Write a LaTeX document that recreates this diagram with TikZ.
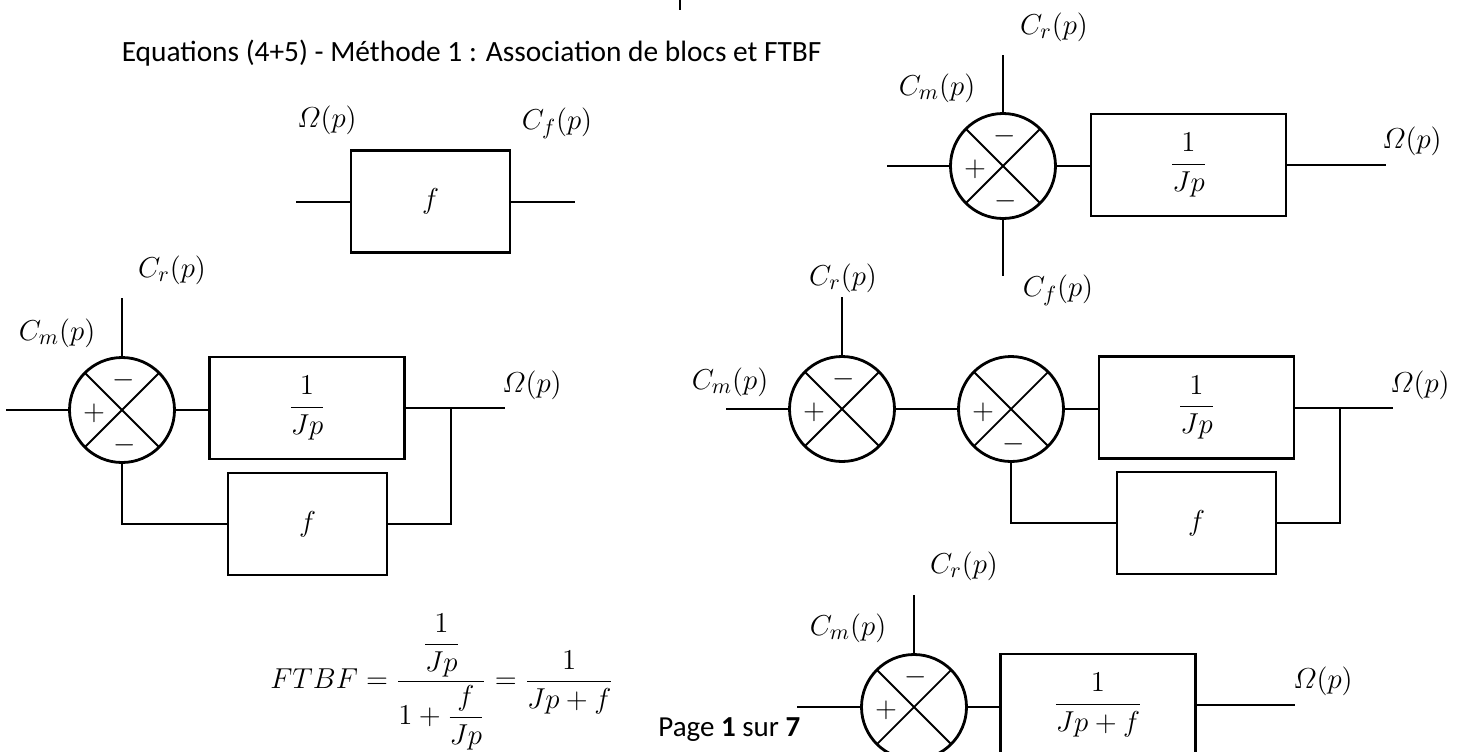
\documentclass[tikz,border=0pt]{standalone}
\usepackage{amsmath}
\usepackage{fontspec}
\newfontfamily\carlito{Carlito}
\usepackage{tikz}
\usetikzlibrary{calc,positioning}
\tikzset{
  sumnode/.style={circle, draw, line width=1.4pt, minimum size=52.5pt, inner sep=0pt,
    path picture={\draw[line width=0.9pt]
      (path picture bounding box.south west) -- (path picture bounding box.north east)
      (path picture bounding box.north west) -- (path picture bounding box.south east);}},
  blockbox/.style={draw, line width=1.4pt, minimum width=97.5pt, minimum height=51pt,
    inner sep=0pt, align=center, font=\fontsize{15}{18}\selectfont},
  gainbox/.style={draw, line width=1.4pt, minimum width=79.5pt, minimum height=51pt,
    inner sep=0pt, font=\fontsize{15}{18}\selectfont},
  sig/.style={inner sep=0pt, font=\fontsize{15}{18}\selectfont},
  sgn/.style={inner sep=0pt, font=\fontsize{14}{17}\selectfont},
  txt/.style={inner sep=0pt, anchor=base west, font=\carlito\fontsize{14.7}{18}\selectfont},
  wire/.style={line width=1pt}
}

\begin{document}
\begin{tikzpicture}[x=0.5pt, y=-0.5pt]
\clip (0,0) rectangle (1467,751);

% title
\node[txt, anchor=base east] (title) at (822,61) {Equations (4+5) - Méthode 1 : Association de blocs et FTBF};
\coordinate (tickA) at (680,0);
\coordinate (tickB) at (680,10);
\draw[wire] (tickA) -- (tickB);

% block f alone
\node[gainbox] (fA) at (430.5,201.5) {$f$};
\coordinate (inA) at (296,201.5);
\coordinate (outA) at (575,201.5);
\node[sig] (omA) at (327,120) {$\varOmega(p)$};
\node[sig] (cfA) at (557,123) {$C_f(p)$};
\draw[wire] (inA) -- (fA.west);
\draw[wire] (fA.east) -- (outA);

% summing point with three inputs
\node[sumnode] (sumB) at (1003,166) {};
\node[blockbox] (blkB) at (1188.5,165) {$\dfrac{1}{Jp}$};
\coordinate (inB) at (887,166);
\coordinate (crB) at (1003,55);
\coordinate (cfB) at (1003,276);
\coordinate (outB) at (1386,165);
\node[sig] (labcrB) at (1054,27) {$C_r(p)$};
\node[sig] (labcmB) at (937,88) {$C_m(p)$};
\node[sig] (labcfB) at (1058,290) {$C_f(p)$};
\node[sig] (labomB) at (1412,141) {$\varOmega(p)$};
\node[sgn] at ($(sumB)+(-28,3)$) {$+$};
\node[sgn] at ($(sumB)+(2,-30)$) {$-$};
\node[sgn] at ($(sumB)+(3,35)$) {$-$};
\draw[wire] (inB) -- (sumB.west);
\draw[wire] (crB) -- (sumB.north);
\draw[wire] (sumB.south) -- (cfB);
\draw[wire] (sumB.east) -- (sumB.east -| blkB.west);
\draw[wire] (blkB.east) -- (outB);

% loop with f feedback
\node[sumnode] (sumC) at (122,410) {};
\node[blockbox] (blkC) at (307,408) {$\dfrac{1}{Jp}$};
\node[gainbox] (fbC) at (307.5,524) {$f$};
\coordinate (inC) at (6,410);
\coordinate (crC) at (122,298);
\coordinate (brC) at (451,408);
\coordinate (outC) at (505,408);
\node[sig] (labcrC) at (172,270) {$C_r(p)$};
\node[sig] (labcmC) at (57,333) {$C_m(p)$};
\node[sig] (labomC) at (532,385) {$\varOmega(p)$};
\node[sgn] at ($(sumC)+(-28,3)$) {$+$};
\node[sgn] at ($(sumC)+(2,-30)$) {$-$};
\node[sgn] at ($(sumC)+(3,35)$) {$-$};
\draw[wire] (inC) -- (sumC.west);
\draw[wire] (crC) -- (sumC.north);
\draw[wire] (sumC.east) -- (sumC.east -| blkC.west);
\draw[wire] (blkC.east) -- (outC);
\draw[wire] (brC) |- (fbC.east);
\draw[wire] (sumC.south) |- (fbC.west);

% two summing points
\node[sumnode] (sumD1) at (842,409) {};
\node[sumnode] (sumD2) at (1011,409) {};
\node[blockbox] (blkD) at (1196.5,407.5) {$\dfrac{1}{Jp}$};
\node[gainbox] (fbD) at (1196.5,523) {$f$};
\coordinate (inD) at (726,409);
\coordinate (crD) at (842,297);
\coordinate (brD) at (1340,407.5);
\coordinate (outD) at (1393,407.5);
\node[sig] (labcrD) at (843,278) {$C_r(p)$};
\node[sig] (labcmD) at (730,382) {$C_m(p)$};
\node[sig] (labomD) at (1420,385) {$\varOmega(p)$};
\node[sgn] at ($(sumD1)+(-28,3)$) {$+$};
\node[sgn] at ($(sumD1)+(2,-30)$) {$-$};
\node[sgn] at ($(sumD2)+(-28,3)$) {$+$};
\node[sgn] at ($(sumD2)+(3,35)$) {$-$};
\draw[wire] (inD) -- (sumD1.west);
\draw[wire] (crD) -- (sumD1.north);
\draw[wire] (sumD1.east) -- (sumD2.west);
\draw[wire] (sumD2.east) -- (sumD2.east -| blkD.west);
\draw[wire] (blkD.east) -- (outD);
\draw[wire] (brD) |- (fbD.east);
\draw[wire] (sumD2.south) |- (fbD.west);

% reduced loop
\node[sumnode] (sumE) at (914,707) {};
\node[blockbox] (blkE) at (1098,705) {$\dfrac{1}{Jp+f}$};
\coordinate (inE) at (797,707);
\coordinate (crE) at (914,595);
\coordinate (outE) at (1295,705);
\node[sig] (labcrE) at (964,566) {$C_r(p)$};
\node[sig] (labcmE) at (848,628) {$C_m(p)$};
\node[sig] (labomE) at (1323,681) {$\varOmega(p)$};
\node[sgn] at ($(sumE)+(-28,3)$) {$+$};
\node[sgn] at ($(sumE)+(2,-30)$) {$-$};
\draw[wire] (inE) -- (sumE.west);
\draw[wire] (crE) -- (sumE.north);
\draw[wire] (sumE.east) -- (sumE.east -| blkE.west);
\draw[wire] (blkE.east) -- (outE);

% closed loop transfer function
\node[sig, font=\fontsize{14}{17}\selectfont] (ftbf) at (442,682) {$FTBF=\dfrac{\dfrac{1}{Jp}}{1+\dfrac{f}{Jp}}=\dfrac{1}{Jp+f}$};
\node[txt, font=\carlito\fontsize{14.5}{18}\selectfont] (page) at (658,736) {Page \textbf{1} sur \textbf{7}};
\end{tikzpicture}
\end{document}
